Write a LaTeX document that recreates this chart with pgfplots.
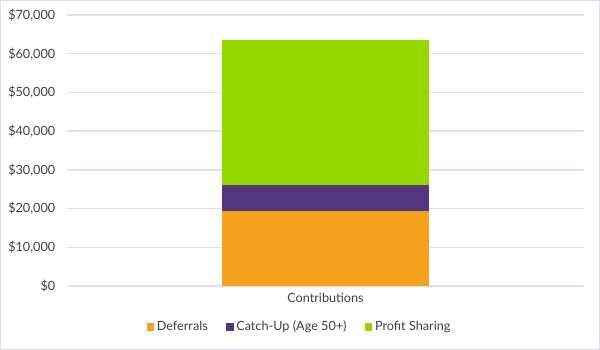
\documentclass[border=0pt]{standalone}
\usepackage{fontspec}
\setmainfont{Lato}
\usepackage{pgfplots}
\pgfplotsset{compat=1.18}
\definecolor{gridc}{HTML}{E2DDF0}
\definecolor{borderc}{HTML}{E0DAF0}
\definecolor{deferc}{HTML}{F5A31F}
\definecolor{catchc}{HTML}{52377F}
\definecolor{profc}{HTML}{96D700}
\definecolor{textc}{HTML}{404040}
\begin{document}
\begin{tikzpicture}
\useasboundingbox (0,0) rectangle (450pt,262.5pt);
\draw[borderc, line width=1pt] (0.5pt,0.5pt) rectangle (449.5pt,262pt);
\begin{axis}[
  at={(50.25pt,48pt)}, anchor=south west,
  scale only axis, width=387.75pt, height=203.25pt,
  ybar stacked, bar width=155.25pt,
  xmin=-1.25, xmax=1.25, ymin=0, ymax=70000,
  xtick={0}, xticklabels={Contributions},
  ytick={0,10000,...,70000},
  ymajorgrids, grid style={gridc, line width=1pt},
  axis line style={draw=none},
  major tick style={draw=none},
  /pgf/number format/assume math mode=true,
  scaled y ticks=false,
  yticklabel={\$\pgfmathprintnumber[fixed,precision=0,1000 sep={,}]{\tick}},
  tick label style={font=\fontsize{9.5}{10.5}\selectfont, text=textc},
  yticklabel style={xshift=-5.3pt},
  xticklabel style={yshift=-2pt},
  legend columns=3,
  legend style={draw=none, fill=none, at={(0.4507,-0.151)}, anchor=center,
    font=\fontsize{9.5}{10.5}\selectfont, text=textc,
    /tikz/every even column/.append style={column sep=12pt}},
  legend image code/.code={\fill[#1] (0pt,-2.7pt) rectangle (5.4pt,2.7pt);},
]
\addplot[fill=deferc, draw=none] coordinates {(0,19500)};
\addplot[fill=catchc, draw=none] coordinates {(0,6500)};
\addplot[fill=profc, draw=none] coordinates {(0,37500)};
\legend{Deferrals, Catch-Up (Age 50+), Profit Sharing}
\end{axis}
\end{tikzpicture}
\end{document}
